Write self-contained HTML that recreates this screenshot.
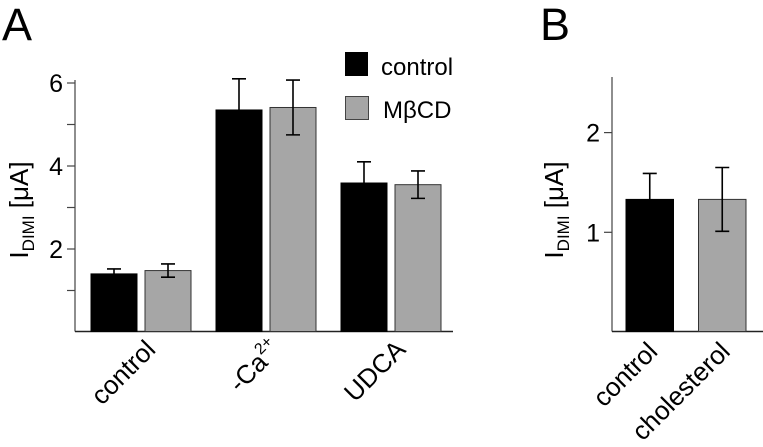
<!DOCTYPE html>
<html><head><meta charset="utf-8">
<style>
html,body{margin:0;padding:0;background:#fff;}
svg{display:block;font-family:"Liberation Sans",sans-serif;}
</style></head>
<body>
<svg id="fig" width="763" height="447" viewBox="0 0 763 447">
<text x="2" y="40" font-size="45">A</text>
<text x="540" y="40" font-size="45">B</text>
<g id="A"></g>
<g id="B"></g>
<g>
  <rect x="345" y="52" width="23" height="24" fill="#000"/>
  <text x="381" y="75" font-size="24">control</text>
  <rect x="345.5" y="96.5" width="23" height="23" fill="#a6a6a6" stroke="#444" stroke-width="1"/>
  <text x="383" y="118" font-size="24">MβCD</text>
</g>
</svg>
<script>
const NS="http://www.w3.org/2000/svg";
// Panel A data
const catsA=["control","-Ca","UDCA"];
const ctrlA=[1.40,5.35,3.59];
const ctrlErrA=[0.12,0.75,0.51];
const mbcdA=[1.48,5.41,3.55];
const mbcdErrA=[0.16,0.66,0.33];
const ticksA=[2,4,6];
const minorA=[1,3,5];
// Panel B data
const catsB=["control","cholesterol"];
const valsB=[1.33,1.33];
const errB=[0.26,0.32];
const ticksB=[1,2];

function mk(parent,tag,attrs){const e=document.createElementNS(NS,tag);for(const k in attrs)e.setAttribute(k,attrs[k]);parent.appendChild(e);return e;}

// Panel A
const gA=document.getElementById("A");
const yA=v=>332-41.5*v;
const axA=75, baseA=331.5;
let e;
e=mk(gA,"line",{x1:axA,y1:80,x2:axA,y2:baseA,stroke:"#444","stroke-width":1.2});


e=mk(gA,"line",{x1:axA,y1:baseA,x2:453,y2:baseA,stroke:"#222","stroke-width":1.5});


ticksA.forEach(t=>{
  e=mk(gA,"line",{x1:axA-8,y1:yA(t),x2:axA,y2:yA(t),stroke:"#444","stroke-width":1.2});
  
  
  e=mk(gA,"text",{x:63,y:yA(t)+9,"font-size":25,"text-anchor":"end"});e.textContent=t;
  
  
});
minorA.forEach(t=>{
  e=mk(gA,"line",{x1:axA-8,y1:yA(t),x2:axA,y2:yA(t),stroke:"#444","stroke-width":1.2});
  
  
});
function bar(g,x,w,v,err,fill,y,name,both){
  const r=mk(g,"rect",{x:x,y:y(v),width:w,height:baseA-y(v),fill:fill,stroke:fill=="#000"?"#000":"#333","stroke-width":1});
  
  
  const cx=x+w/2, top=y(v+err), bot=both?y(v-err):y(v);
  const p=mk(g,"path",{d:`M${cx} ${bot}V${top}M${cx-7} ${top}H${cx+7}`+(both?`M${cx-7} ${bot}H${cx+7}`:""),stroke:"#000","stroke-width":1.6,fill:"none"});
  
  
}
catsA.forEach((c,i)=>{
  const x0=91+125*i;
  bar(gA,x0,46,ctrlA[i],ctrlErrA[i],"#000",yA,"bar-control-"+i,false);
  bar(gA,x0+54,46,mbcdA[i],mbcdErrA[i],"#a6a6a6",yA,"bar-mbcd-"+i,true);
  const cx=x0+50;
  e=mk(gA,"text",{"font-size":26,"text-anchor":"end",transform:`translate(${cx+16},351) rotate(-45)`});
  
  
  if(c=="-Ca"){e.innerHTML='-Ca<tspan font-size="16" dy="-12">2+</tspan>';}
  else e.textContent=c;
});
e=mk(gA,"text",{"font-size":26,"text-anchor":"middle",transform:"translate(28,210) rotate(-90)"});
e.innerHTML='I<tspan font-size="17" dy="6">DIMI</tspan><tspan dy="-6"> [μA]</tspan>';



// Panel B
const gB=document.getElementById("B");
const yB=v=>332-99.7*v;
const axB=612;
e=mk(gB,"line",{x1:axB,y1:77,x2:axB,y2:baseA,stroke:"#444","stroke-width":1.2});


e=mk(gB,"line",{x1:axB,y1:baseA,x2:763,y2:baseA,stroke:"#222","stroke-width":1.5});


ticksB.forEach(t=>{
  e=mk(gB,"line",{x1:axB-8,y1:yB(t),x2:axB,y2:yB(t),stroke:"#444","stroke-width":1.2});
  
  
  e=mk(gB,"text",{x:600,y:yB(t)+9,"font-size":25,"text-anchor":"end"});e.textContent=t;
  
  
});
catsB.forEach((c,i)=>{
  const x0=626+72.5*i;
  bar(gB,x0,47.5,valsB[i],errB[i],i==0?"#000":"#a6a6a6",yB,"bar-b-"+i,i==1);
  e=mk(gB,"text",{"font-size":26,"text-anchor":"end",transform:`translate(${x0+33},353) rotate(-45)`});
  e.textContent=c;
  
  
});
e=mk(gB,"text",{"font-size":26,"text-anchor":"middle",transform:"translate(563,210) rotate(-90)"});
e.innerHTML='I<tspan font-size="17" dy="6">DIMI</tspan><tspan dy="-6"> [μA]</tspan>';


</script>
</body></html>
